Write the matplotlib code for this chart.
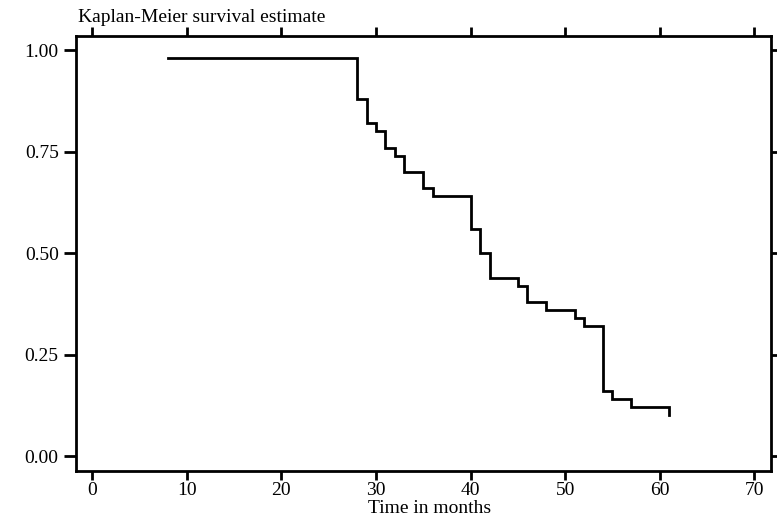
import numpy as np
import matplotlib
matplotlib.use("Agg")
import matplotlib.pyplot as plt

# Kaplan-Meier step estimate
times = [8, 28, 29, 30, 31, 32, 33, 35, 36, 40, 41, 42, 45, 46, 48, 51, 52, 54, 55, 57, 61]
surv = [0.98, 0.88, 0.82, 0.80, 0.76, 0.74, 0.70, 0.66, 0.64, 0.56, 0.50, 0.44,
        0.42, 0.38, 0.36, 0.34, 0.32, 0.16, 0.14, 0.12, 0.10]

xticks = [0, 10, 20, 30, 40, 50, 60, 70]
yticks = [0.00, 0.25, 0.50, 0.75, 1.00]

plt.rcParams['font.family'] = ['Liberation Serif', 'DejaVu Serif']
fs = 14

fig = plt.figure(figsize=(7.77, 5.19), dpi=100)
ax = fig.add_axes([0.0978, 0.0931, 0.8941, 0.8381])

ax.plot(times, surv, drawstyle='steps-post', color='black', lw=2.0,
        solid_joinstyle='miter')

ax.set_xlim(-1.72, 71.73)
ax.set_ylim(-0.036, 1.036)
ax.set_xticks(xticks)
ax.set_yticks(yticks)
ax.set_yticklabels([f"{v:.2f}" for v in yticks])

for s in ax.spines.values():
    s.set_linewidth(2.0)

ax.tick_params(axis='x', which='both', direction='out', length=6.5, width=2,
               top=True, labeltop=False, labelsize=fs, pad=1.5)
ax.tick_params(axis='y', which='both', direction='out', length=8.5, width=2,
               right=True, labelright=False, labelsize=fs, pad=4)

fig.text(430 / 777, 1 - 513 / 519, "Time in months",
         fontsize=fs, va='baseline', ha='center')
fig.text(77.7 / 777, 1 - 21.5 / 519, "Kaplan-Meier survival estimate",
         fontsize=fs, va='baseline', ha='left')

fig.savefig("out.png", dpi=100)
